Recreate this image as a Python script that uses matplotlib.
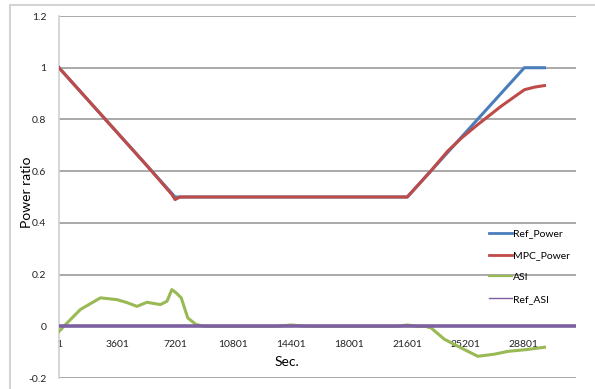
import numpy as np
import matplotlib
matplotlib.use("Agg")
import matplotlib.pyplot as plt
from matplotlib.patches import Rectangle

plt.rcParams['font.family'] = ['Lato', 'DejaVu Sans']

# time (s) / value pairs
ref_t = [1, 7200, 21600, 28860, 30110]
ref_power = [1.0, 0.5, 0.5, 1.0, 1.0]

mpc_t = [1, 1800, 3600, 5400, 7000, 7200, 7500, 21600, 23000, 24100, 25000,
         25970, 27420, 28300, 28870, 29500, 30110]
mpc_power = [1.0, 0.875, 0.75, 0.625, 0.51, 0.49, 0.5, 0.5, 0.596, 0.677, 0.73,
             0.78, 0.851, 0.89, 0.915, 0.925, 0.931]

asi_t = [1, 300, 1330, 2570, 3600, 4200, 4840, 5460, 5900, 6290, 6700, 7000,
         7250, 7580, 7990, 8500, 9000, 13500, 14400, 15300, 21000, 21600,
         22200, 22700, 23070, 23900, 24730, 25970, 27000, 27840, 29000, 30110]
asi = [-0.02, 0.0, 0.065, 0.11, 0.103, 0.092, 0.077, 0.093, 0.088, 0.084,
       0.097, 0.142, 0.13, 0.11, 0.032, 0.007, 0.0, 0.0, 0.005, 0.0, 0.0,
       0.005, 0.0, 0.0, -0.006, -0.05, -0.077, -0.116, -0.108, -0.097, -0.09,
       -0.081]

ref_asi_t = [1, 32065]
ref_asi = [0.0, 0.0]

x_ticks = [1, 3601, 7201, 10801, 14401, 18001, 21601, 25201, 28801]
y_ticks = [-0.2, 0, 0.2, 0.4, 0.6, 0.8, 1, 1.2]

fig = plt.figure(figsize=(5.95, 3.89), dpi=100)
fig.patches.append(Rectangle((10 / 595, -0.1), 1.2, 1.1 - 5 / 389,
                             transform=fig.transFigure, fill=False,
                             edgecolor='#d4d4d4', lw=1.5))
ax = fig.add_axes([59 / 595, 11 / 389, 517 / 595, 362 / 389])

for y in y_ticks:
    ax.axhline(y, color='#a3a3a3', lw=1.3, zorder=1)

ax.plot(ref_t, ref_power, color='#4a7ebb', lw=2.2, label='Ref_Power', zorder=3)
ax.plot(mpc_t, mpc_power, color='#be4b48', lw=2.2, label='MPC_Power', zorder=4)
ax.plot(asi_t, asi, color='#98b954', lw=2.2, label='ASI', zorder=3)
ax.plot(ref_asi_t, ref_asi, color='#7d60a0', lw=2.6, label='Ref_ASI', zorder=5)

ax.set_xlim(1, 32065)
ax.set_ylim(-0.2, 1.2)
ax.set_yticks(y_ticks)
ax.set_yticklabels(['-0.2', '0', '0.2', '0.4', '0.6', '0.8', '1', '1.2'])
ax.set_xticks(x_ticks)
ax.set_xticklabels([str(v) for v in x_ticks])
ax.spines['bottom'].set_position(('data', 0))
ax.spines['bottom'].set_visible(False)
for s in ['top', 'right']:
    ax.spines[s].set_visible(False)
ax.spines['left'].set_color('#d0d0d0')
ax.spines['left'].set_linewidth(1.2)
ax.tick_params(axis='both', length=0, labelsize=7.5, colors='#222222')
ax.tick_params(axis='x', pad=10)
ax.tick_params(axis='y', pad=9)

fig.text(287 / 595, 1 - 362 / 389, 'Sec.', fontsize=10, ha='center', va='center')
fig.text(27 / 595, 1 - 192 / 389, 'Power ratio', fontsize=10, rotation=90,
         ha='center', va='center')

leg = ax.legend(loc='upper left', bbox_to_anchor=(426 / 517, 1 - (225 - 16) / 362),
                frameon=False, fontsize=7.5, handlelength=2.2, handletextpad=0.1,
                labelspacing=1.2, borderaxespad=0)
for line, w in zip(leg.get_lines(), [2.0, 2.0, 1.6, 1.0]):
    line.set_linewidth(w)

fig.savefig('out.png', dpi=100)
